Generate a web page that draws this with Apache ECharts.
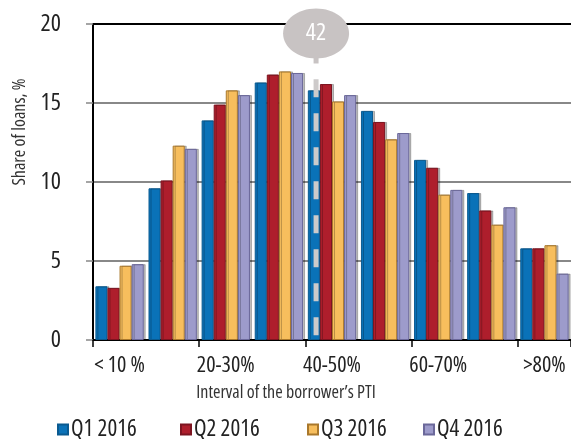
<!DOCTYPE html>
<html lang="en">
<head>
  <meta charset="UTF-8">
  <title>Share of loans by PTI interval</title>
  <script src="https://cdn.jsdelivr.net/npm/echarts@6/dist/echarts.min.js"></script>
  <style>
    html, body { margin: 0; padding: 0; background: #fff; }
    #chart { width: 571px; height: 439px; }
  </style>
</head>
<body>
  <div id="chart"></div>
  <script>
    // intervals of the borrower's PTI
    const categories = ['< 10 %', '10-20%', '20-30%', '30-40%', '40-50%', '50-60%', '60-70%', '70-80%', '>80%'];
    const seriesNames = ['Q1 2016', 'Q2 2016', 'Q3 2016', 'Q4 2016'];
    const q1 = [3.4, 9.6, 13.9, 16.3, 15.8, 14.5, 11.4, 9.3, 5.8];
    const q2 = [3.3, 10.1, 14.9, 16.8, 16.2, 13.8, 10.9, 8.2, 5.8];
    const q3 = [4.7, 12.3, 15.8, 17.0, 15.1, 12.7, 9.2, 7.3, 6.0];
    const q4 = [4.8, 12.1, 15.5, 16.9, 15.5, 13.1, 9.5, 8.4, 4.2];
    const marker = [42]; // PTI limit, %

    // condensed face of Open Sans (fontStyle slot carries the stretch keyword)
    const fam = '"Open Sans", sans-serif';
    const cond = 'condensed';
    const fills = ['#0a72b8', '#ae1e2c', '#f7be5d', '#9d9bcb'];
    const borders = ['#0a5a90', '#7d1420', '#a9782c', '#6b689a'];
    const values = [q1, q2, q3, q4];
    const legendLeft = [57, 180, 307, 423];

    var chart = echarts.init(document.getElementById('chart'));

    var barSeries = seriesNames.map(function (name, i) {
      return {
        name: name,
        type: 'bar',
        data: values[i],
        barGap: '0%',
        barCategoryGap: '9%',
        itemStyle: {
          color: fills[i],
          borderColor: borders[i],
          borderWidth: 1,
          shadowColor: 'rgba(0,0,0,0.25)',
          shadowOffsetX: 2,
          shadowBlur: 0
        }
      };
    });

    // dashed limit line with the bubble label
    var markerSeries = {
      type: 'custom',
      xAxisIndex: 1,
      yAxisIndex: 0,
      z: 10,
      silent: true,
      data: marker.map(function (v) { return [v]; }),
      renderItem: function (params, api) {
        var v = api.value(0);
        var top = api.coord([v, 16.5]);
        var bottom = api.coord([v, -0.2]);
        var bubble = api.coord([v, 19.4]);
        return {
          type: 'group',
          children: [
            {
              type: 'line',
              shape: { x1: top[0], y1: top[1], x2: bottom[0], y2: bottom[1] },
              style: { stroke: '#cdcaca', lineWidth: 5, lineDash: [18, 16] }
            },
            {
              type: 'rect',
              shape: { x: bubble[0] - 2.5, y: bubble[1] + 20, width: 5, height: 10 },
              style: { fill: '#c8c3c3' }
            },
            {
              type: 'ellipse',
              shape: { cx: bubble[0], cy: bubble[1], rx: 33, ry: 25 },
              style: { fill: '#c8c3c3' }
            },
            {
              type: 'text',
              x: bubble[0],
              y: bubble[1],
              style: {
                text: String(v),
                fill: '#fff',
                font: cond + ' 24px ' + fam,
                align: 'center',
                verticalAlign: 'middle'
              }
            }
          ]
        };
      }
    };

    var option = {
      animation: false,
      backgroundColor: '#fff',
      grid: { left: 93, top: 24, bottom: 99, right: -5 },
      legend: seriesNames.map(function (name, i) {
        return {
          data: [name],
          left: legendLeft[i],
          top: 418,
          icon: 'rect',
          itemWidth: 10,
          itemHeight: 10,
          itemGap: 0,
          padding: 0,
          textStyle: {
            fontFamily: fam,
            fontStyle: cond,
            fontSize: 23,
            color: '#222',
            padding: [0, 0, 0, -2]
          }
        };
      }),
      xAxis: [
        {
          type: 'category',
          data: categories,
          axisLine: { lineStyle: { color: '#000', width: 2 } },
          axisTick: { show: true, length: 7, lineStyle: { color: '#000', width: 1.5 } },
          axisLabel: {
            interval: 1,
            margin: 15,
            fontFamily: fam,
            fontStyle: cond,
            fontSize: 22,
            color: '#222'
          },
          splitLine: { show: false }
        },
        {
          type: 'value',
          min: 0,
          max: 90,
          show: false
        }
      ],
      yAxis: {
        type: 'value',
        min: 0,
        max: 20,
        interval: 5,
        axisLine: { show: true, lineStyle: { color: '#000', width: 2 } },
        axisTick: { show: true, length: 7, lineStyle: { color: '#888', width: 1.5 } },
        axisLabel: {
          margin: 32,
          fontFamily: fam,
          fontStyle: cond,
          fontSize: 24,
          color: '#222'
        },
        splitLine: {
          show: true,
          lineStyle: { color: ['#888', '#888', '#888', '#888', '#000'], width: 1.8 }
        }
      },
      graphic: [
        {
          type: 'text',
          x: 286,
          y: 393,
          style: {
            text: 'Interval of the borrower\u2019s PTI',
            font: cond + ' 18px ' + fam,
            fill: '#333',
            align: 'center',
            verticalAlign: 'middle'
          }
        },
        {
          type: 'text',
          x: 20,
          y: 132,
          rotation: Math.PI / 2,
          style: {
            text: 'Share of loans, %',
            font: cond + ' 18px ' + fam,
            fill: '#333',
            align: 'center',
            verticalAlign: 'middle'
          }
        }
      ],
      series: barSeries.concat([markerSeries])
    };

    chart.setOption(option);
  </script>
</body>
</html>
